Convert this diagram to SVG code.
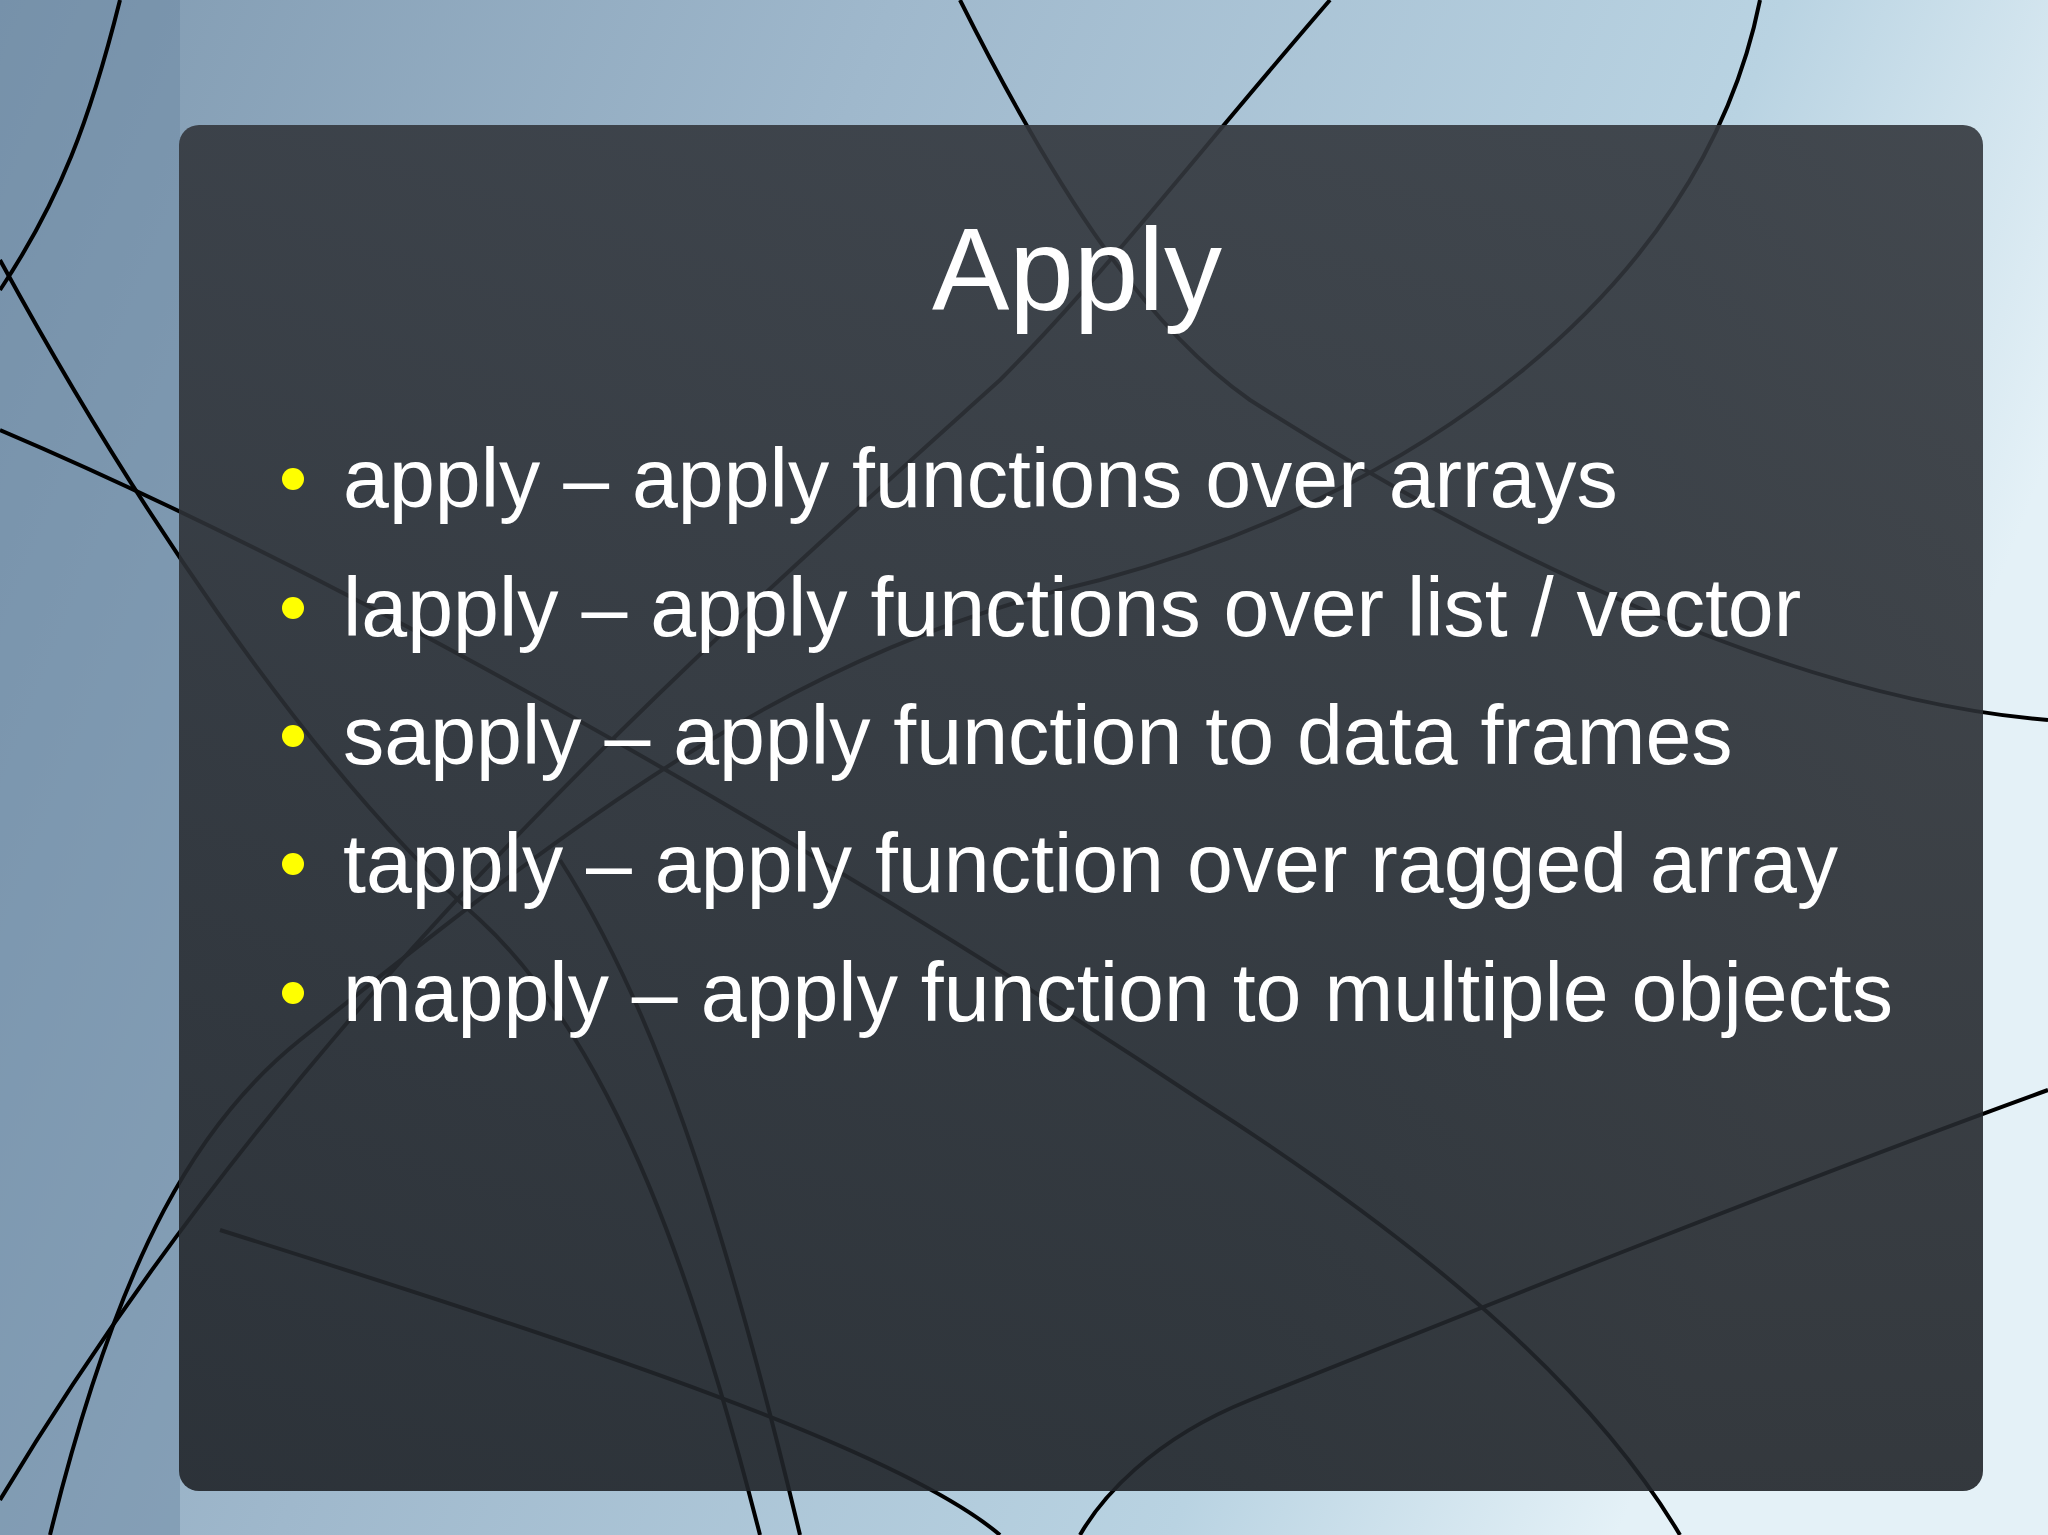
<svg xmlns="http://www.w3.org/2000/svg" width="2048" height="1535" viewBox="0 0 2048 1535">
<defs>
<linearGradient id="bg" x1="0" y1="0" x2="1" y2="0.3">
<stop offset="0" stop-color="#7f99b0"/><stop offset="0.4" stop-color="#9fb8cc"/><stop offset="0.8" stop-color="#b9d3e2"/><stop offset="1" stop-color="#e4f1f7"/>
</linearGradient>
<linearGradient id="pn" x1="0" y1="0" x2="0" y2="1">
<stop offset="0" stop-color="#33373d"/><stop offset="1" stop-color="#202429"/>
</linearGradient>
<style>
.c{fill:none;stroke:#000;stroke-width:4}
.t{font-family:"Liberation Sans",Arial,sans-serif;fill:#fff}
.b{fill:#ffff00}
</style>
</defs>
<rect width="2048" height="1535" fill="url(#bg)"/>
<rect x="0" y="0" width="180" height="1535" fill="#6d8aa3" opacity="0.5"/>
<g id="curves">
<path class="c" d="M120 0 C90 120 60 200 0 290"/>
<path class="c" d="M0 260 C120 480 300 760 480 920 C620 1050 700 1300 760 1535"/>
<path class="c" d="M960 0 C1060 200 1150 330 1250 400 C1500 560 1800 700 2048 720"/>
<path class="c" d="M1330 0 C1200 150 1100 280 1000 380 C700 650 300 1000 0 1500"/>
<path class="c" d="M1760 0 C1700 300 1400 500 1100 580 C800 650 600 800 300 1040 C200 1120 120 1250 50 1535"/>
<path class="c" d="M0 430 C400 600 900 900 1200 1100 C1450 1260 1600 1400 1680 1535"/>
<path class="c" d="M2048 1090 C1800 1180 1500 1300 1250 1400 C1150 1440 1100 1500 1080 1535"/>
<path class="c" d="M220 1230 C600 1350 900 1450 1000 1535"/>
<path class="c" d="M560 860 C650 1000 720 1200 800 1535"/>
</g>
<g id="panel">
<rect x="179" y="125" width="1804" height="1366" rx="20" fill="url(#pn)" opacity="0.9"/>
</g>
<g id="title"><text class="t" x="1077" y="310" font-size="116" text-anchor="middle">Apply</text></g>
<g id="bullets">
<circle class="b" cx="293" cy="479" r="11"/><text class="t" x="343" y="507" font-size="82.5">apply – apply functions over arrays</text>
<circle class="b" cx="293" cy="608" r="11"/><text class="t" x="343" y="636" font-size="82.5">lapply – apply functions over list / vector</text>
<circle class="b" cx="293" cy="736" r="11"/><text class="t" x="343" y="764" font-size="82.5">sapply – apply function to data frames</text>
<circle class="b" cx="293" cy="864" r="11"/><text class="t" x="343" y="892" font-size="82.5">tapply – apply function over ragged array</text>
<circle class="b" cx="293" cy="993" r="11"/><text class="t" x="343" y="1021" font-size="82.5">mapply – apply function to multiple objects</text>
</g>
</svg>
